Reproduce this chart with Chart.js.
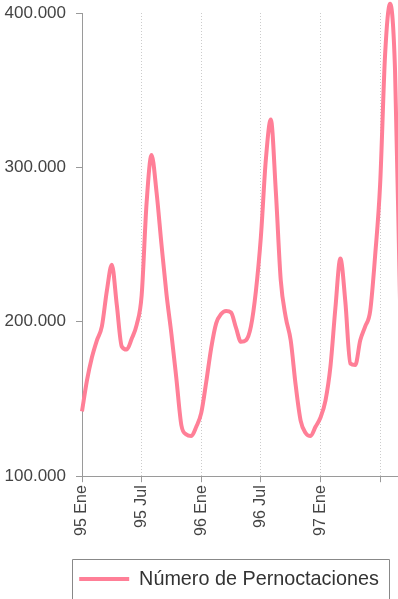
<!DOCTYPE html>
<html>
<head>
<meta charset="utf-8">
<script src="https://cdn.jsdelivr.net/npm/chart.js@4"></script>
<style>
  html, body { margin: 0; padding: 0; background: #fff; }
  #wrap { width: 398px; height: 599px; overflow: hidden; }
  #wrap div { width: 410px; height: 599px; }
</style>
</head>
<body>
<div id="wrap"><div><canvas id="pernoctaciones"></canvas></div></div>
<script>
// half-month periods from Jan 1995
const years = ["95", "96", "97"];
const months = ["Ene", "Feb", "Mar", "Abr", "May", "Jun", "Jul", "Ago", "Sep", "Oct", "Nov", "Dic"];
const tickLabels = ["95 Ene", "95 Jul", "96 Ene", "96 Jul", "97 Ene", ""];
const pernoctaciones = [
  142000, 162000, 177000, 188000, 197000, 220000, 237000, 211000, 184000, 182000,
  189000, 198000, 217000, 277000, 308000, 284000, 250000, 218000, 192000, 163000,
  133000, 127000, 126000, 132000, 141000, 161000, 183000, 199000, 205000, 207000,
  206000, 196000, 187000, 188000, 197000, 220000, 255000, 305000, 331000, 285000,
  227000, 203000, 188000, 159000, 136000, 128000, 126000, 132000, 138000, 149000,
  171000, 209000, 241000, 213000, 173000, 172000, 188000, 197000, 207000, 243000,
  289000, 373000, 406000, 363000, 214000
];

const periods = [];
years.forEach(y => months.forEach(m => { periods.push(y + " " + m + " 1"); periods.push(y + " " + m + " 2"); }));
const labels = periods.slice(0, pernoctaciones.length);

const lineColor = "#ff7f97";
const axisColor = "#9a9a9a";
const textColor = "#444";

// box round the legend, open at the bottom like the scan
const legendFrame = {
  id: "legendFrame",
  afterLayout(chart) {
    chart.legend.left -= 12;
    chart.legend.right -= 12;
  },
  afterDraw(chart) {
    const box = chart.legend.legendHitBoxes[0];
    if (!box) return;
    const ctx = chart.ctx;
    const l = Math.round(box.left - 7) + 0.5;
    const r = Math.round(box.left + box.width + 10) + 0.5;
    const t = Math.round(box.top + box.height / 2 - 20) + 0.5;
    ctx.save();
    ctx.strokeStyle = "#888";
    ctx.lineWidth = 1;
    ctx.beginPath();
    ctx.moveTo(l, 610);
    ctx.lineTo(l, t);
    ctx.lineTo(r, t);
    ctx.lineTo(r, 610);
    ctx.stroke();
    ctx.restore();
  }
};

new Chart("pernoctaciones", {
  type: "line",
  data: {
    labels: labels,
    datasets: [
      {
        label: "Número de Pernoctaciones",
        data: pernoctaciones,
        borderColor: lineColor,
        backgroundColor: lineColor,
        borderWidth: 4,
        pointRadius: 0,
        cubicInterpolationMode: "monotone",
        clip: false,
      },
    ],
  },
  options: {
    responsive: true,
    maintainAspectRatio: false,
    animation: false,
    layout: { padding: { top: 13, right: 10, left: 0, bottom: 0 } },
    scales: {
      x: {
        afterFit: scale => {
          scale.paddingLeft = 0;
          scale.paddingRight = 0;
          scale.height = 81;
        },
        ticks: {
          autoSkip: false,
          minRotation: 90,
          maxRotation: 90,
          padding: 3,
          color: textColor,
          font: { family: "Liberation Sans", size: 16 },
          callback: (v, i) => (i % 12 === 0 ? tickLabels[i / 12] : ""),
        },
        grid: {
          color: c => (c.index % 12 === 0 && c.index > 0 ? "rgba(0,0,0,0.2)" : "transparent"),
          tickColor: c => (c.index % 12 === 0 ? axisColor : "transparent"),
          tickLength: 6,
          tickBorderDash: [],
        },
        border: { color: axisColor, dash: [1, 2] },
      },
      y: {
        min: 100000,
        max: 400000,
        afterFit: scale => {
          scale.paddingTop = 0;
          scale.paddingBottom = 0;
          scale.width = 82;
        },
        ticks: {
          stepSize: 100000,
          padding: 10,
          color: textColor,
          font: { family: "Liberation Sans", size: 17 },
          callback: v => v / 1000 + ".000",
        },
        grid: { drawOnChartArea: false, tickLength: 6, tickColor: axisColor },
        border: { color: axisColor },
      },
    },
    plugins: {
      legend: {
        position: "bottom",
        fullSize: false,
        labels: {
          boxWidth: 50,
          boxHeight: 4,
          padding: 12,
          color: "#333",
          font: { family: "Liberation Sans", size: 19.8 },
          generateLabels: chart =>
            Chart.defaults.plugins.legend.labels.generateLabels(chart).map(l => ({ ...l, lineWidth: 0, fillStyle: lineColor })),
        },
      },
      tooltip: { enabled: false },
    },
  },
  plugins: [legendFrame],
});
</script>
</body>
</html>
